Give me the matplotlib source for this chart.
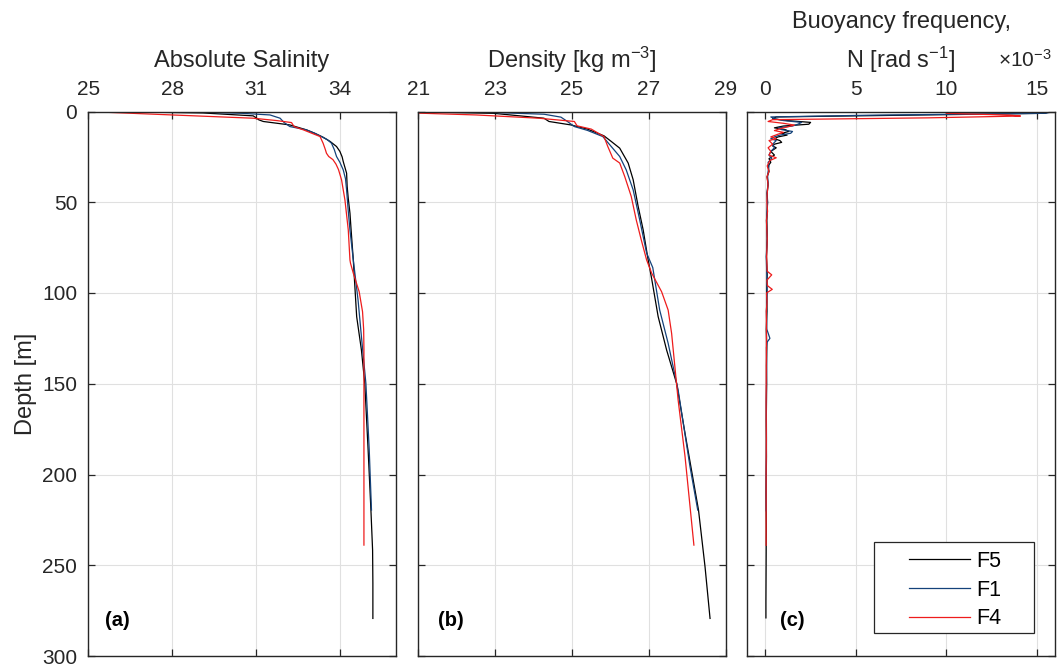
import matplotlib
matplotlib.use("Agg")
import matplotlib.pyplot as plt
from matplotlib.patches import Rectangle

plt.rcParams['font.family'] = ['Liberation Sans', 'DejaVu Sans']
plt.rcParams['mathtext.fontset'] = 'custom'
plt.rcParams['mathtext.rm'] = 'Liberation Sans'
plt.rcParams['mathtext.it'] = 'Liberation Sans:italic'

stations = ['F5', 'F1', 'F4']
colors = {'F5': '#000000', 'F1': '#14427a', 'F4': '#ee1c1c'}

# Absolute salinity profiles
sal_depth_f5 = [0.4, 0.8, 2.4, 4.0, 4.6, 5.5, 7.4, 10.1, 12, 14.2, 16.5, 19.3, 22, 25, 27.6,
                34, 41.3, 48, 56, 65, 81.8, 95, 113, 131.4, 149.8, 186.5, 219.6, 241.7, 260, 279.3]
sal_f5 = [27.2, 29.1, 30.9, 31.05, 31.1, 31.26, 32.21, 32.8, 33.1, 33.4, 33.65, 33.88, 34.0, 34.08, 34.12,
          34.24, 34.26, 34.3, 34.36, 34.4, 34.48, 34.53, 34.6, 34.77, 34.89, 35.01, 35.11, 35.17, 35.18, 35.18]

sal_depth_f1 = [0.4, 1.0, 1.9, 3.7, 6.0, 8.3, 10.1, 12, 13.8, 15.5, 17.5, 21, 24.8, 28, 32.2, 37,
                43.2, 55, 65.3, 81.8, 103.9, 124, 149.8, 186.5, 219.6]
sal_f1 = [29.1, 30.5, 31.5, 31.86, 32.0, 32.21, 32.8, 33.1, 33.34, 33.55, 33.7, 33.8, 33.88, 34.0, 34.12, 34.2,
          34.24, 34.3, 34.36, 34.48, 34.65, 34.77, 34.93, 35.05, 35.13]

sal_depth_f4 = [0.4, 1.9, 3.7, 5.0, 6.1, 8.3, 10.1, 13.8, 17.5, 21, 23, 24.8, 26.5, 29, 32, 37.7, 48.7,
                65.3, 81.8, 83.6, 89.1, 99.3, 110.3, 120, 131.4, 160, 200, 238.9]
sal_f4 = [25.6, 28.0, 30.9, 31.74, 32.27, 32.36, 32.69, 33.29, 33.4, 33.48, 33.52, 33.6, 33.75, 33.86, 33.95,
          34.06, 34.18, 34.3, 34.36, 34.38, 34.48, 34.69, 34.81, 34.85, 34.86, 34.86, 34.86, 34.86]

# Density profiles
rho_depth_f5 = [0.4, 1.0, 3.7, 5.5, 7.4, 9.7, 13.4, 16.5, 20.2, 28.4, 37.6, 52.3, 65.2, 81.8, 92,
                113, 131.4, 149.8, 177.4, 219.6, 250.9, 279.3]
rho_f5 = [21.3, 22.96, 24.27, 24.4, 24.97, 25.4, 25.83, 26.02, 26.24, 26.46, 26.59, 26.72, 26.85, 26.98, 27.07,
          27.24, 27.46, 27.72, 27.94, 28.29, 28.46, 28.59]

rho_depth_f1 = [0.4, 1.5, 3.1, 5.5, 8.3, 10.4, 13.8, 19.3, 24.8, 32.2, 43.2, 59.7, 78, 86,
                109.4, 127.7, 153.5, 195.8, 219.6]
rho_f1 = [22.75, 24.27, 24.71, 24.88, 25.06, 25.4, 25.8, 26.02, 26.24, 26.41, 26.59, 26.76, 26.94, 27.1,
          27.28, 27.5, 27.76, 28.07, 28.27]

rho_depth_f4 = [0.9, 1.9, 3.7, 5.5, 7.9, 9.7, 13.8, 19.3, 25.7, 28.4, 35.8, 46.8, 59.7, 70.7, 81.8,
                89, 99.3, 109.4, 122.2, 159, 190.2, 238.9]
rho_f4 = [21.0, 22.5, 24.14, 25.06, 25.13, 25.5, 25.83, 25.93, 26.06, 26.24, 26.37, 26.54, 26.67, 26.8, 26.94,
          27.07, 27.33, 27.5, 27.59, 27.76, 27.94, 28.17]

# Buoyancy frequency, in units of 1e-3 rad/s
n_depth_f5 = [0.5, 1.0, 2.0, 3.0, 4.0, 5.0, 6.0, 7.0, 8.0, 9.0, 10, 11, 12, 13, 14, 15, 16, 17, 18, 19,
              20, 22, 24, 26, 28, 30, 33, 36, 40, 45, 50, 60, 70, 80, 90, 100, 110, 120, 130, 140,
              150, 170, 190, 210, 230, 250, 270, 279]
n_f5 = [15.6, 15.4, 8.0, 0.6, 0.4, 1.2, 2.5, 2.4, 1.0, 0.5, 1.1, 1.3, 0.9, 1.2, 0.7, 0.5, 0.8, 0.9, 0.5, 0.4,
        0.6, 0.3, 0.5, 0.2, 0.3, 0.15, 0.2, 0.1, 0.15, 0.1, 0.12, 0.08, 0.1, 0.06, 0.1, 0.07, 0.09, 0.05, 0.08, 0.06,
        0.07, 0.05, 0.06, 0.04, 0.05, 0.04, 0.03, 0.03]

n_depth_f1 = [0.3, 1.0, 2.0, 3.0, 4.0, 5, 6, 7, 8, 9, 10, 11, 12, 13, 14, 15, 16, 18, 20, 22,
              24, 26, 28, 30, 35, 40, 45, 50, 60, 70, 80, 90, 100, 110, 120, 125, 127, 130, 140, 160,
              180, 200, 220]
n_f1 = [15.8, 15.5, 6.0, 0.3, 0.5, 1.0, 2.0, 1.8, 1.5, 0.7, 0.9, 1.5, 1.4, 0.8, 0.5, 0.3, 0.6, 0.4, 0.5, 0.3,
        0.2, 0.35, 0.15, 0.2, 0.12, 0.15, 0.08, 0.12, 0.06, 0.1, 0.05, 0.08, 0.1, 0.06, 0.08, 0.25, 0.1, 0.06, 0.07, 0.05,
        0.06, 0.04, 0.04]

n_depth_f4 = [1.0, 2.0, 2.5, 3.5, 4.5, 5.5, 6.5, 7.5, 8.5, 9.5, 10.5, 11.5, 12.5, 14, 15, 16, 18, 20, 22, 24,
              25.5, 27, 30, 33, 36, 40, 45, 50, 55, 60, 70, 80, 88, 90, 93, 96, 98, 100, 105, 110,
              120, 140, 160, 180, 200, 220, 239]
n_f4 = [10.0, 13.5, 14.1, 9.0, 0.4, 0.15, 1.0, 1.6, 1.2, 0.8, 0.5, 1.0, 0.7, 0.3, 0.6, 0.2, 0.4, 0.15, 0.3, 0.2,
        0.6, 0.25, 0.1, 0.2, 0.08, 0.15, 0.1, 0.08, 0.12, 0.06, 0.1, 0.07, 0.1, 0.35, 0.08, 0.12, 0.38, 0.06, 0.09, 0.05,
        0.06, 0.05, 0.04, 0.05, 0.04, 0.04, 0.04]

profiles = [
    {'F5': (sal_f5, sal_depth_f5), 'F1': (sal_f1, sal_depth_f1), 'F4': (sal_f4, sal_depth_f4)},
    {'F5': (rho_f5, rho_depth_f5), 'F1': (rho_f1, rho_depth_f1), 'F4': (rho_f4, rho_depth_f4)},
    {'F5': (n_f5, n_depth_f5), 'F1': (n_f1, n_depth_f1), 'F4': (n_f4, n_depth_f4)},
]
xlabels = ['Absolute Salinity', 'Density [kg m$^{-3}$]', 'N [rad s$^{-1}$]']
xlims = [(25, 36), (21, 29), (-1, 16)]
xticks = [[25, 28, 31, 34], [21, 23, 25, 27, 29], [0, 5, 10, 15]]
panel_tags = ['(a)', '(b)', '(c)']
tag_x = [0.094, 0.105, 0.148]

fig = plt.figure(figsize=(10.57, 6.66), dpi=100)
lefts = [88.3 / 1057, 418.3 / 1057, 747.3 / 1057]
width = 307.5 / 1057
bottom = 1 - 656 / 666
height = (656 - 111.5) / 666
ink = '#262626'

axes = []
for i in range(3):
    ax = fig.add_axes([lefts[i], bottom, width, height])
    for st in stations:
        x, d = profiles[i][st]
        ax.plot(x, d, color=colors[st], lw=0.9, label=st)
    ax.set_xlim(*xlims[i])
    ax.set_ylim(300, 0)
    ax.set_xticks(xticks[i])
    ax.set_yticks(range(0, 301, 50))
    ax.grid(True, color='#e0e0e0', lw=0.8)
    ax.set_axisbelow(True)
    ax.xaxis.set_label_position('top')
    ax.set_xlabel(xlabels[i], fontsize=17, color=ink, labelpad=9)
    ax.tick_params(direction='in', length=5, width=0.9, colors=ink, labelsize=15,
                   top=True, bottom=True, labeltop=True, labelbottom=False,
                   left=True, right=True, labelleft=(i == 0))
    ax.tick_params(axis='x', pad=9)
    ax.tick_params(axis='y', pad=8)
    for sp in ax.spines.values():
        sp.set_color(ink)
        sp.set_linewidth(1.0)
    ax.text(tag_x[i], 0.066, panel_tags[i], transform=ax.transAxes, fontsize=14.5,
            fontweight='bold', ha='center', va='center')
    axes.append(ax)

axes[0].set_ylabel('Depth [m]', fontsize=17, color=ink, labelpad=4)

# first line of the buoyancy axis title and the exponent of its ticks
fig.text(901 / 1057, 1 - 22 / 666, 'Buoyancy frequency,', fontsize=17, color=ink,
         ha='center', va='center')
fig.text(1052 / 1057, 1 - 67 / 666, '×10$^{-3}$', fontsize=15, color=ink,
         ha='right', va='baseline')

# legend box drawn separately so the entries sit well inside it
axc = axes[2]
box = Rectangle((0.412, 0.042), 0.520, 0.167, transform=axc.transAxes, facecolor='white',
                edgecolor=ink, lw=0.9, zorder=4)
axc.add_patch(box)
leg = axc.legend(loc='center left', bbox_to_anchor=(0.527, 0.121), fontsize=15.5,
                 handlelength=2.8, frameon=False, borderaxespad=0, labelspacing=0.36,
                 borderpad=0, handletextpad=0.3)
leg.set_zorder(5)

fig.savefig('out.png', dpi=100)
